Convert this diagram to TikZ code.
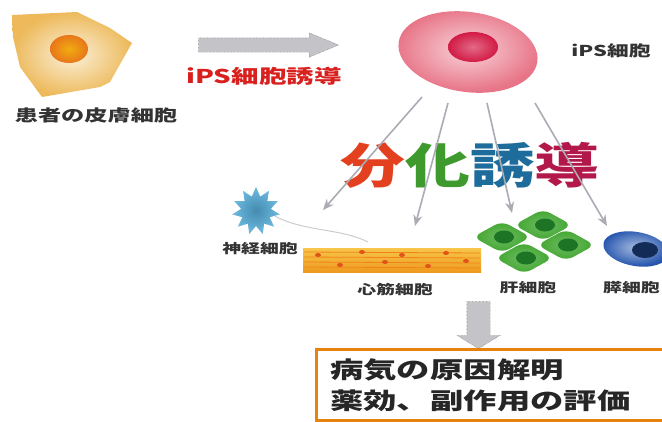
\documentclass[tikz,border=0pt]{standalone}
\usepackage{fontspec}
\usepackage{xcolor}
\setmainfont{Noto Sans CJK JP}
\newfontfamily\jpwide[FakeStretch=1.45]{Noto Sans CJK JP}
\newfontfamily\jptitle[FakeStretch=1.35]{Noto Sans CJK JP}
\usetikzlibrary{shapes.geometric, shapes.arrows, arrows.meta}
\definecolor{labelgray}{HTML}{333333}
\definecolor{skinlight}{HTML}{FBF0DA}
\definecolor{skinorange}{HTML}{EDB95A}
\definecolor{nucorange}{HTML}{E8761A}
\definecolor{ipslight}{HTML}{F9D4DA}
\definecolor{ipspink}{HTML}{E77487}
\definecolor{nucred}{HTML}{D21A45}
\definecolor{ipsred}{HTML}{D8201E}
\definecolor{blockgray}{HTML}{C4C4C8}
\definecolor{arrowgray}{HTML}{ABABB4}
\definecolor{divred}{HTML}{E2401E}
\definecolor{divgreen}{HTML}{3E9A2C}
\definecolor{divblue}{HTML}{1E6C9C}
\definecolor{divcrimson}{HTML}{B2184A}
\definecolor{nerveblue}{HTML}{55AEDB}
\definecolor{musyellow}{HTML}{F7C64A}
\definecolor{musorange}{HTML}{EE9A1E}
\definecolor{musred}{HTML}{E0541A}
\definecolor{livergreen}{HTML}{3FA52E}
\definecolor{liverdark}{HTML}{1D7424}
\definecolor{pancblue}{HTML}{2656AE}
\definecolor{boxorange}{HTML}{E8820E}

\tikzset{
  lbl/.style={inner sep=0pt, text=labelgray, font=\jpwide\bfseries\fontsize{13}{15}\selectfont},
  blockarr/.style={single arrow, draw=gray!70!black, densely dotted, fill=blockgray, inner xsep=0pt},
  diffarr/.style={draw=arrowgray, line width=1.6pt, -{Stealth[length=11pt, width=9pt]}},
  axon/.style={draw=gray!40, line width=1pt},
  liver/.style={diamond, minimum width=58pt, minimum height=32pt, inner sep=0pt,
    rounded corners=8pt, inner color=livergreen!75!white, outer color=livergreen},
  resultbox/.style={draw=boxorange, line width=2.5pt, inner xsep=14pt, inner ysep=9pt,
    align=left, text=black!85, font=\jpwide\bfseries\fontsize{23}{31}\selectfont}
}

\begin{document}
\begin{tikzpicture}[x=1pt, y=-1pt]
  \useasboundingbox (0,0) rectangle (662,421);

  % skin cell of the patient
  \shade[inner color=skinlight, outer color=skinorange]
    (12,15) -- (77,12) -- (110,28) -- (132,43) -- (110,82) -- (100,87)
    -- (42,97) -- (20,67) -- (13,37) -- cycle;
  \node[ellipse, minimum width=38pt, minimum height=28pt, inner sep=0pt,
        inner color=nucorange!60!yellow, outer color=nucorange] (skinnuc) at (69,49) {};
  \node[lbl, font=\jpwide\bfseries\fontsize{16}{18}\selectfont] (skinlbl) at (96,115) {患者の皮膚細胞};

  % reprogramming arrow
  \node[blockarr, minimum height=140pt, inner ysep=7pt, single arrow tip angle=45,
        single arrow head extend=5pt] (induce) at (260,45) {};
  \node[lbl, text=ipsred, font=\jpwide\bfseries\fontsize{19}{21}\selectfont] (inducelbl) at (264,76) {iPS細胞誘導};

  % iPS cell
  \node[ellipse, rotate=-8, minimum width=140pt, minimum height=80pt, inner sep=0pt,
        inner color=ipslight, outer color=ipspink] (ips) at (468,52) {};
  \node[ellipse, minimum width=50pt, minimum height=30pt, inner sep=0pt,
        inner color=nucred!65!white, outer color=nucred] (ipsnuc) at (473,47) {};
  \node[lbl, font=\jpwide\bfseries\fontsize{15}{17}\selectfont] (ipslbl) at (611,51) {iPS細胞};

  % differentiation
  \node[inner sep=0pt, font=\jptitle\bfseries\fontsize{48}{50}\selectfont] (diff) at (470,165)
    {\textcolor{divred}{分}\textcolor{divgreen}{化}\textcolor{divblue}{誘}\textcolor{divcrimson}{導}};

  % nerve cell
  \node[star, star points=11, star point ratio=1.6, minimum size=48pt, inner sep=0pt,
        inner color=nerveblue!80!black, outer color=nerveblue!85!white] (nerve) at (256,211) {};
  \coordinate (axonend) at (368,242);
  \draw[axon] (nerve.-15) .. controls (305,232) and (340,228) .. (axonend);
  \node[lbl] (nervelbl) at (260,249) {神経細胞};

  % heart muscle cell
  \node[rectangle, minimum width=178pt, minimum height=24pt, inner sep=0pt,
        top color=musyellow, bottom color=musorange] (heart) at (392,260) {};
  \foreach \y in {252,257,262,267}
    \draw[musorange!85!red, line width=0.8pt] (304,\y) -- (480,\y+1);
  \foreach \px/\py in {318/255, 340/265, 362/252, 385/262, 402/255, 428/266, 446/253, 466/261}
    \fill[musred] (\px,\py) ellipse (3pt and 2pt);
  \node[lbl] (heartlbl) at (395,290) {心筋細胞};

  % liver cells
  \foreach \name/\px/\py in {la/543/225, lb/502/237, lc/566/245, ld/524/258} {
    \node[liver] (\name) at (\px,\py) {};
    \fill[liverdark] (\px+2,\py) ellipse (10pt and 6.5pt);
  }
  \node[lbl] (liverlbl) at (528,288) {肝細胞};

  % pancreatic cell
  \node[ellipse, rotate=-10, minimum width=66pt, minimum height=34pt, inner sep=0pt,
        inner color=pancblue!40!white, outer color=pancblue] (panc) at (636,249) {};
  \fill[pancblue!50!black] (645,250) ellipse (13pt and 8pt);
  \node[lbl, anchor=west] (panclbl) at (603,288) {膵細胞};

  % arrows to the differentiated cells
  \coordinate (s1) at (422,97);
  \coordinate (s2) at (448,103);
  \coordinate (s3) at (487,103);
  \coordinate (s4) at (535,103);
  \coordinate (e1) at (323,210);
  \coordinate (e2) at (415,226);
  \coordinate (e3) at (512,213);
  \coordinate (e4) at (607,226);
  \foreach \i in {1,...,4}
    \draw[diffarr] (s\i) -- (e\i);

  % outcome
  \node[blockarr, rotate=-90, minimum height=47pt, inner ysep=11.5pt, single arrow tip angle=117,
        single arrow head extend=10pt] (down) at (478.5,321.5) {};
  \node[resultbox, anchor=north west, text width=380pt] (result) at (315,348)
    {病気の原因解明\\薬効、副作用の評価};
\end{tikzpicture}
\end{document}
